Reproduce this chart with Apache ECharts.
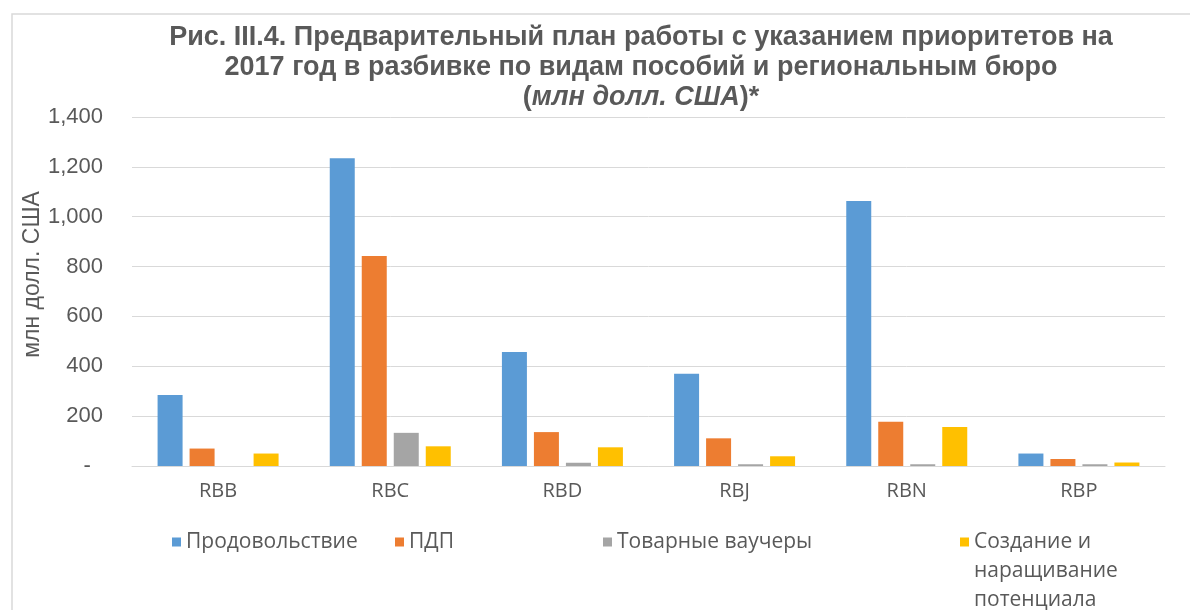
<!DOCTYPE html>
<html>
<head>
<meta charset="utf-8">
<script src="https://cdn.jsdelivr.net/npm/echarts@6/dist/echarts.min.js"></script>
<style>
  html, body { margin: 0; padding: 0; background: #fff; }
  #main { width: 1190px; height: 610px; }
</style>
</head>
<body>
<div id="main"></div>
<script>
// data
var bureaus = ['RBB', 'RBC', 'RBD', 'RBJ', 'RBN', 'RBP'];
var seriesNames = ['Продовольствие', 'ПДП', 'Товарные ваучеры', 'Создание и\nнаращивание\nпотенциала'];
var food = [285, 1235, 457, 370, 1063, 50];
var cbt = [70, 842, 136, 111, 178, 28];
var vouchers = [0, 133, 13, 7, 7, 7];
var capacity = [50, 79, 75, 39, 156, 14];
var yTicks = [0, 200, 400, 600, 800, 1000, 1200, 1400];

var colors = ['#5b9bd5', '#ed7d31', '#a5a5a5', '#ffc000'];
var txt = '#595959';
var font = 'Liberation Sans, Arial, sans-serif';
var font2 = 'Open Sans, sans-serif';

var chart = echarts.init(document.getElementById('main'));

var values = [food, cbt, vouchers, capacity];
var series = [];
for (var i = 0; i < values.length; i++) {
    series.push({
        name: seriesNames[i],
        type: 'bar',
        data: values[i],
        barWidth: 25,
        barGap: '28%',
        itemStyle: { color: colors[i] }
    });
}

// one legend per item so each sits where it does in the original
var legendLeft = [172, 395, 603, 960];
var legends = [];
for (var j = 0; j < seriesNames.length; j++) {
    var multi = j === 3;
    legends.push({
        data: [seriesNames[j]],
        left: legendLeft[j],
        top: multi ? 469.5 : 527.5,
        padding: 0,
        icon: 'rect',
        itemWidth: 9,
        itemHeight: 9,
        itemGap: 4,
        // two blank lines in front keep the square level with the first line
        formatter: multi ? function (n) { return '\n\n' + n; } : '{name}',
        textStyle: { color: txt, fontSize: 21, fontFamily: font2, lineHeight: 29 }
    });
}

var option = {
    animation: false,
    color: colors,
    title: {
        text: 'Рис. III.4. Предварительный план работы с указанием приоритетов на\n2017 год в разбивке по видам пособий и региональным бюро\n{b|(}{i|млн долл. США}{b|)*}',
        left: 636,
        textAlign: 'center',
        top: 18,
        textStyle: {
            color: txt,
            fontSize: 27,
            fontWeight: 'bold',
            fontFamily: font,
            lineHeight: 30,
            rich: {
                b: { color: txt, fontSize: 27, fontWeight: 'bold', fontFamily: font, lineHeight: 30 },
                i: { color: txt, fontSize: 27, fontWeight: 'bold', fontStyle: 'italic', fontFamily: font, lineHeight: 30 }
            }
        }
    },
    legend: legends,
    graphic: [{
        type: 'rect',
        shape: { x: 12, y: 14, width: 1200, height: 640 },
        style: { fill: 'none', stroke: '#d9d9d9', lineWidth: 1.5 }
    }],
    grid: { left: 132, right: 25, top: 117, bottom: 144 },
    xAxis: {
        type: 'category',
        data: bureaus,
        axisLine: { lineStyle: { color: '#d9d9d9' } },
        axisTick: { show: false },
        axisLabel: { color: txt, fontSize: 20, fontFamily: font2, margin: 15 }
    },
    yAxis: {
        type: 'value',
        min: yTicks[0],
        max: yTicks[yTicks.length - 1],
        interval: 200,
        name: 'млн долл. США',
        nameLocation: 'middle',
        nameGap: 88,
        nameMoveOverlap: false,
        nameTextStyle: { color: txt, fontSize: 23, fontFamily: font, padding: [0, 0, 0, 34] },
        axisLine: { show: false },
        axisTick: { show: false },
        splitLine: { lineStyle: { color: '#d9d9d9' } },
        axisLabel: {
            color: txt,
            fontSize: 22,
            fontFamily: font,
            margin: 29,
            formatter: function (v) {
                return v === 0 ? '-  ' : v.toLocaleString('en-US');
            }
        }
    },
    series: series
};

chart.setOption(option);
</script>
</body>
</html>
